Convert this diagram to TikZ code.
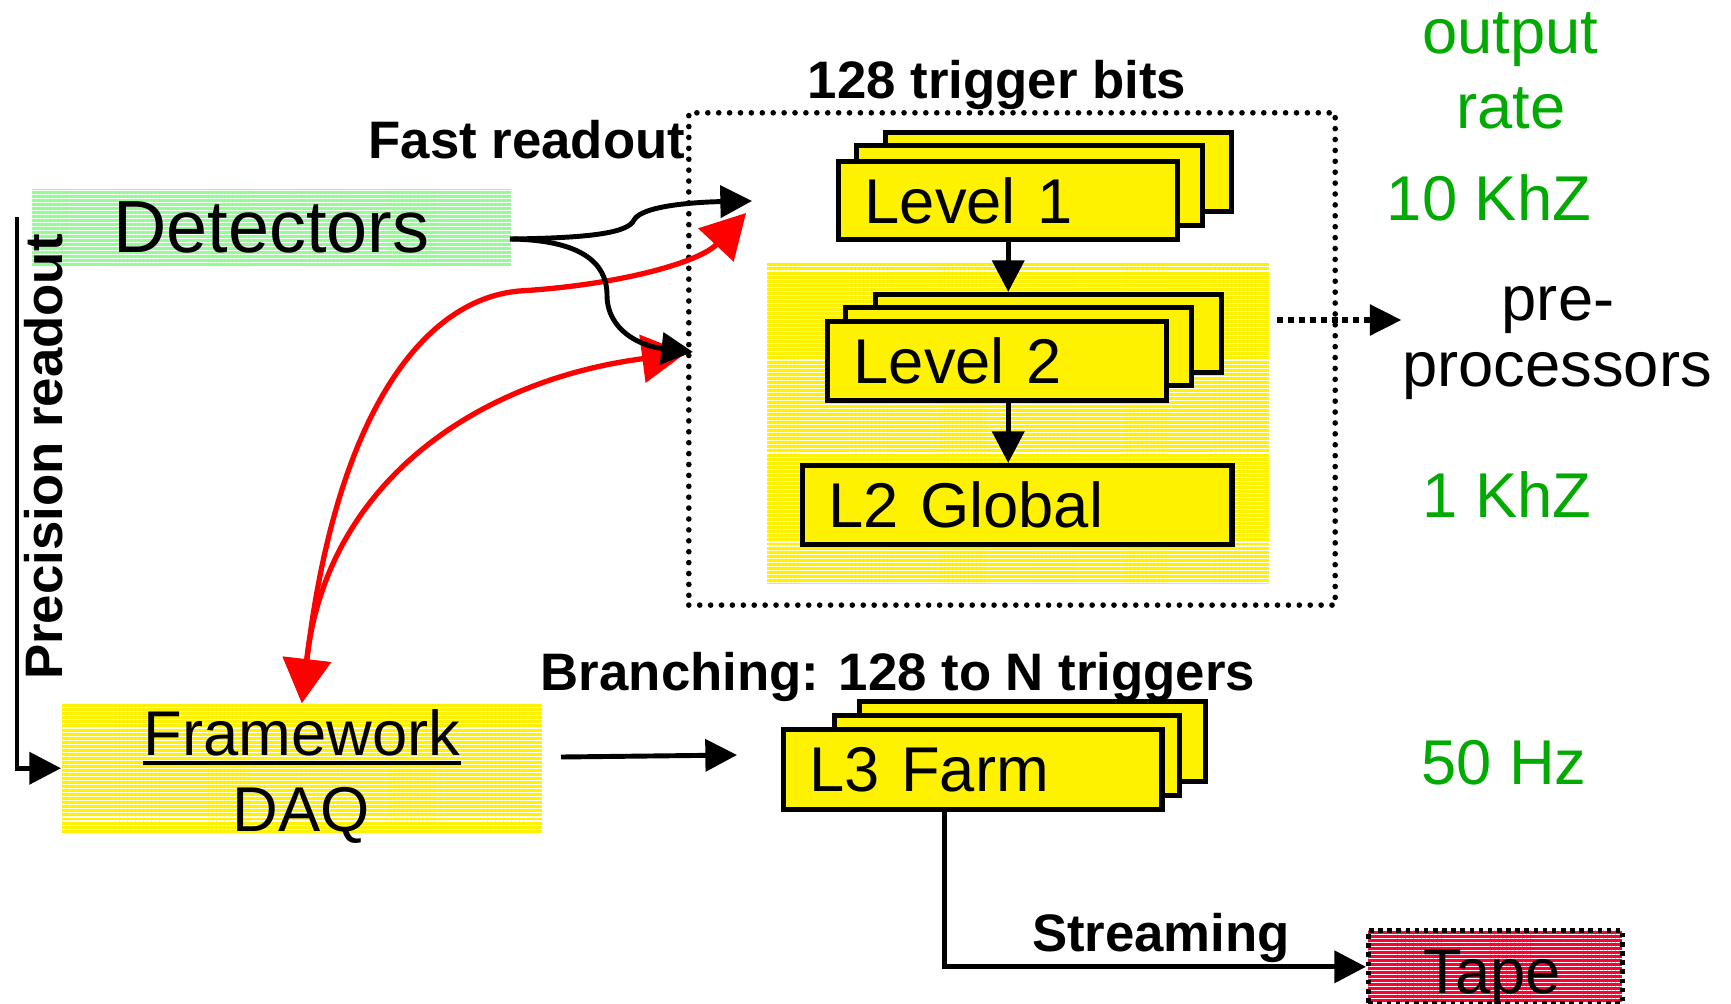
\documentclass[tikz,border=0pt]{standalone}
\usepackage{fontspec}
\setmainfont{Liberation Sans}
\usetikzlibrary{arrows.meta,patterns.meta}

\definecolor{detgreen}{RGB}{150,250,150}
\definecolor{rategreen}{RGB}{0,170,0}
\definecolor{tapered}{RGB}{255,0,51}

\tikzset{
  bigtext/.style={font=\fontsize{18}{22}\selectfont, inner sep=0pt},
  boldlbl/.style={font=\fontsize{15}{18}\selectfont\bfseries, inner sep=0pt},
  ratetxt/.style={bigtext, text=rategreen},
  hatch/.style={preaction={fill=#1}, pattern={Lines[distance=1.15pt,line width=0.3pt]}, pattern color=white, inner sep=0pt},
  card/.style={draw, fill=yellow, line width=1.5pt, inner sep=0pt, anchor=north west},
  cardtxt/.style={card, font=\fontsize{18}{22}\selectfont, inner xsep=0.26cm, align=left, text width=#1},
  dotbox/.style={draw, line width=1.6pt, line cap=round, dash pattern=on 0pt off 3.1pt},
  arr/.style={line width=1.4pt, -{Triangle[length=9pt,width=9pt]}},
  redarr/.style={red, line width=1.5pt, {Triangle[length=12.5pt,width=13.5pt]}-{Triangle[length=12.5pt,width=13.5pt]}},
  dotarr/.style={line width=1.7pt, dash pattern=on 1.7pt off 1.4pt, -{Triangle[length=9pt,width=8.5pt]}}
}

\begin{document}
\begin{tikzpicture}[x=0.01cm,y=-0.01cm]
\useasboundingbox (0,0) rectangle (1731,1003);

% Backgrounds
\node[hatch=detgreen, minimum width=4.79cm, minimum height=0.78cm, anchor=north west,
      font=\fontsize{21}{25}\selectfont] (det) at (31,188) {Detectors};
\node[hatch=yellow, minimum width=4.8cm, minimum height=1.29cm, anchor=north west] (frame) at (61,703) {};
\node[hatch=yellow, minimum width=5.02cm, minimum height=3.21cm, anchor=north west] (l2bg) at (766,262) {};
\node[hatch=tapered, draw, line width=1.3pt, dash pattern=on 1.3pt off 1.3pt,
      minimum width=2.54cm, minimum height=0.73cm, anchor=north west] (tape) at (1366,928) {};
\node[dotbox, minimum width=6.46cm, minimum height=4.92cm, anchor=north west] (trig) at (686,110) {};

% Level 1 stack
\node[card, minimum width=3.46cm, minimum height=0.79cm] (lvl1c) at (883,130) {};
\node[card, minimum width=3.46cm, minimum height=0.8cm] (lvl1b) at (854,143) {};
\node[cardtxt=2.87cm, minimum height=0.78cm] (lvl1) at (836,159) {Level 1};

% Level 2 stack
\node[card, minimum width=3.46cm, minimum height=0.78cm] (lvl2c) at (873,292) {};
\node[card, minimum width=3.46cm, minimum height=0.78cm] (lvl2b) at (843,305) {};
\node[cardtxt=2.87cm, minimum height=0.79cm] (lvl2) at (825,319) {Level 2};

\node[cardtxt=3.77cm, minimum height=0.79cm] (glob) at (800,463) {L2 Global};

% L3 stack
\node[card, minimum width=3.46cm, minimum height=0.8cm] (l3c) at (857,699) {};
\node[card, minimum width=3.45cm, minimum height=0.8cm] (l3b) at (832,713) {};
\node[cardtxt=3.26cm, minimum height=0.8cm] (l3) at (781,727) {L3 Farm};

% Free ends
\coordinate (precout) at (17,217);
\coordinate (detout) at (510,239);
\coordinate (l1blk) at (752,201);
\coordinate (l2blk) at (693,352);
\coordinate (l1red) at (746,213);
\coordinate (l2red) at (686,353);
\coordinate (fwout) at (561,757);
\coordinate (l3in) at (737,755);
\coordinate (ppout) at (1277,320);

% Red links
\draw[redarr] (frame.north) .. controls (335,420) and (420,300) .. (519,291)
  .. controls (620,285) and (700,262) .. (l1red);
\draw[redarr] (frame.north) .. controls (327,480) and (480,380) .. (l2red);

% Fast readout
\draw[arr] (detout) .. controls (590,238) and (628,233) .. (634,220)
  .. controls (642,205) and (700,202) .. (l1blk);
\draw[arr] (detout) .. controls (580,240) and (607,262) .. (607,295)
  .. controls (607,330) and (640,346) .. (l2blk);

% Other arrows
\draw[arr] (precout) |- (frame.west);
\draw[arr] (lvl1.south) -- (lvl1.south |- lvl2c.north);
\draw[arr] (lvl1.south |- lvl2.south) -- (lvl1.south |- glob.north);
\draw[arr] (fwout) -- (l3in);
\draw[arr] ([xshift=-0.28cm]l3.south) |- (tape.west);

% Texts
\node[bigtext, anchor=base] (fw) at (302,755) {Framework};
\draw[line width=1.3pt] ([yshift=-2.3pt]fw.base west) -- ([yshift=-2.3pt]fw.base east);
\node[bigtext, anchor=base] (daq) at (301,831) {DAQ};
\node[bigtext, anchor=base] (tapetxt) at (1492,993) {Tape};

\node[boldlbl, anchor=base] (bits) at (997,98) {128 trigger bits};
\node[boldlbl, anchor=base west] (fast) at (368,158) {Fast readout};
\node[boldlbl, anchor=base] (branch) at (898,690) {Branching: 128 to N triggers};
\node[boldlbl, anchor=base] (stream) at (1161,951) {Streaming};
\node[boldlbl, anchor=base, rotate=90] (prec) at (62,457) {Precision readout};

\node[ratetxt, anchor=base] (out1) at (1510,53) {output};
\node[ratetxt, anchor=base] (out2) at (1511,128) {rate};
\node[ratetxt, anchor=base] (r1) at (1489,220) {10 KhZ};
\node[ratetxt, anchor=base] (r2) at (1507,517) {1 KhZ};
\node[ratetxt, anchor=base] (r3) at (1504,784) {50 Hz};

\node[bigtext, anchor=base] (pre1) at (1558,320) {pre-};
\node[bigtext, anchor=base] (pre2) at (1557,386) {processors};
\draw[dotarr] (ppout) -- (ppout -| pre2.west);
\end{tikzpicture}
\end{document}
